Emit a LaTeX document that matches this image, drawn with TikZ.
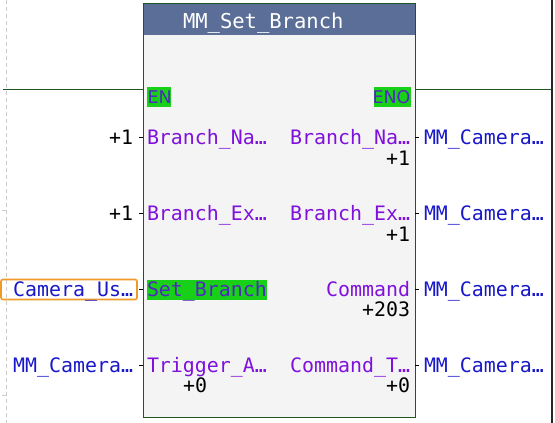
\documentclass[tikz,border=0pt]{standalone}
\usepackage{fontspec}
\newfontfamily\monof{DejaVu Sans Mono}
\newfontfamily\sansf{DejaVu Sans}
\definecolor{hdr}{HTML}{5A6E98}
\definecolor{body}{HTML}{F4F4F4}
\definecolor{frame}{HTML}{1E561E}
\definecolor{pin}{HTML}{8010DC}
\definecolor{val}{HTML}{1818C8}
\definecolor{hl}{HTML}{18D018}
\definecolor{hltxt}{HTML}{5028C0}
\definecolor{org}{HTML}{F09A28}
\begin{document}
\begin{tikzpicture}[x=1pt,y=-1pt,
  every node/.style={inner sep=0pt,outer sep=0pt},
  pinlbl/.style={font=\monof\fontsize{19.9}{20}\selectfont,text=pin},
  vallbl/.style={font=\monof\fontsize{19.9}{20}\selectfont,text=val},
  numlbl/.style={font=\monof\fontsize{19.9}{20}\selectfont,text=black},
  hllbl/.style={font=\monof\fontsize{19.9}{20}\selectfont,text=hltxt},
  enlbl/.style={font=\sansf\fontsize{17.5}{18}\selectfont,text=hltxt},
  tick/.style={draw=black,line width=0.8pt}]
\useasboundingbox (0,0) rectangle (555,423);
\fill[white] (0,0) rectangle (555,423);
% left dashed guide
\draw[gray!40,line width=0.8pt,dash pattern=on 4pt off 3pt] (6,0) -- (6,423);
\draw[gray!40,line width=0.8pt] (2,210) -- (7,210);
\draw[gray!40,line width=0.8pt] (2,395) -- (7,395);
% right edge
\draw[black!85,line width=1.6pt] (552,0) -- (552,423);
% rail
\coordinate (railL) at (3,89);
\coordinate (railR) at (551,89);
% block
\node[draw=frame,fill=body,line width=1pt,minimum width=272pt,minimum height=414pt,anchor=north west] (blk) at (143,3) {};
\fill[hdr] (143.5,3.5) rectangle (414.5,35);
\draw[frame,line width=1pt] (blk.north west) rectangle (blk.south east);
\node[anchor=base west,font=\monof\fontsize{20.5}{21}\selectfont,text=white] (title) at (183,28) {MM\_Set\_Branch};
\draw[frame,line width=1pt] (railL) -- (blk.west |- railL);
\draw[frame,line width=1pt] (blk.east |- railR) -- (railR);
% EN / ENO
\node[fill=hl,anchor=north west,minimum width=24pt,minimum height=19.5pt] (enbg) at (147,87) {};
\node[enlbl,anchor=base west] (en) at (147.5,103) {EN};
\node[fill=hl,anchor=north east,minimum width=37pt,minimum height=19.5pt] (enobg) at (411,87) {};
\node[enlbl,anchor=base east] (eno) at (410.5,103) {ENO};
% pin coordinates
\foreach \i/\y in {1/137,2/213,3/289,4/365}{
  \coordinate (li\i) at (139,\y);
  \coordinate (lb\i) at (143,\y);
  \coordinate (rb\i) at (415,\y);
  \coordinate (ro\i) at (419,\y);
  \draw[tick] (li\i) -- (lb\i);
  \draw[tick] (rb\i) -- (ro\i);
}
% left inputs
\node[numlbl,anchor=base east] (in1) at (133,144) {+1};
\node[numlbl,anchor=base east] (in2) at (133,220) {+1};
\node[draw=org,line width=1.6pt,rounded corners=2pt,anchor=north west,minimum width=136pt,minimum height=20pt] (in3box) at (1,279.5) {};
\node[vallbl,anchor=base east] (in3) at (133,296) {Camera\_Us…};
\node[vallbl,anchor=base east] (in4) at (133,372) {MM\_Camera…};
% left pin names
\node[pinlbl,anchor=base west] (p1) at (147,144) {Branch\_Na…};
\node[pinlbl,anchor=base west] (p2) at (147,220) {Branch\_Ex…};
\node[fill=hl,anchor=north west,minimum width=120pt,minimum height=19.5pt] (p3bg) at (147,280) {};
\node[hllbl,anchor=base west] (p3) at (147,296) {Set\_Branch};
\node[pinlbl,anchor=base west] (p4) at (147,372) {Trigger\_A…};
\node[numlbl,anchor=base east] (p4v) at (207,392) {+0};
% right pin names
\node[pinlbl,anchor=base east] (q1) at (410,144) {Branch\_Na…};
\node[numlbl,anchor=base east] (q1v) at (410,165) {+1};
\node[pinlbl,anchor=base east] (q2) at (410,220) {Branch\_Ex…};
\node[numlbl,anchor=base east] (q2v) at (410,241) {+1};
\node[pinlbl,anchor=base east] (q3) at (410,296) {Command};
\node[numlbl,anchor=base east] (q3v) at (410,316) {+203};
\node[pinlbl,anchor=base east] (q4) at (410,372) {Command\_T…};
\node[numlbl,anchor=base east] (q4v) at (410,392) {+0};
% right outputs
\foreach \i/\y in {1/144,2/220,3/296,4/372}{
  \node[vallbl,anchor=base west] (out\i) at (424,\y) {MM\_Camera…};
}
\end{tikzpicture}
\end{document}
